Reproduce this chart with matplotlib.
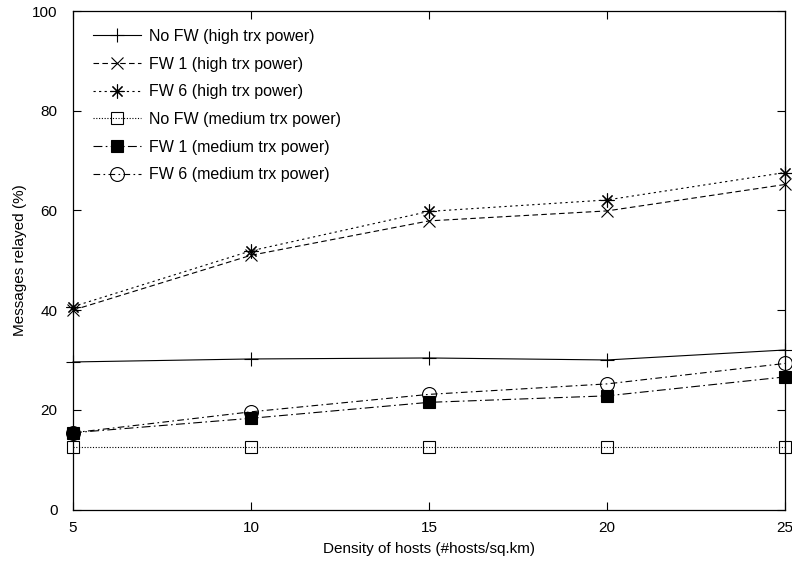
import matplotlib
matplotlib.use('Agg')
import matplotlib.pyplot as plt

plt.rcParams['font.family'] = ['Liberation Sans', 'DejaVu Sans']
plt.rcParams['font.size'] = 11

# Density of hosts
density = [5, 10, 15, 20, 25]

# Messages relayed (%) per scenario
nofw_high = [29.6, 30.2, 30.4, 30.0, 32.0]
fw1_high = [40.0, 51.0, 57.9, 59.9, 65.2]
fw6_high = [40.7, 51.9, 59.8, 62.1, 67.6]
nofw_med = [12.5, 12.5, 12.5, 12.5, 12.5]
fw1_med = [15.4, 18.3, 21.5, 22.8, 26.6]
fw6_med = [15.4, 19.6, 23.1, 25.2, 29.3]

labels = ['No FW (high trx power)', 'FW 1 (high trx power)', 'FW 6 (high trx power)',
          'No FW (medium trx power)', 'FW 1 (medium trx power)', 'FW 6 (medium trx power)']

fig = plt.figure(figsize=(7.92, 5.62), dpi=100)
ax = fig.add_axes([0.0922, 0.0934, 0.8990, 0.8870])

lw = 0.8
common = dict(color='black', lw=lw, mew=0.8, clip_on=False)
ax.plot(density, nofw_high, ls='-', marker='+', ms=10, label=labels[0], **common)
ax.plot(density, fw1_high, ls=(0, (5, 3)), marker='x', ms=8, label=labels[1], **common)
ax.plot(density, fw6_high, ls=(0, (2, 3)), marker=(8, 2, 0), ms=10, label=labels[2], **common)
ax.plot(density, nofw_med, ls=(0, (1, 1.5)), marker='s', ms=9, mfc='none', label=labels[3], **common)
ax.plot(density, fw1_med, ls=(0, (8, 3, 1.5, 3)), marker='s', ms=9, mfc='black', label=labels[4], **common)
ax.plot(density, fw6_med, ls=(0, (6, 3, 1.5, 3)), marker='o', ms=10, mfc='none', label=labels[5], **common)

ax.set_xlim(5, 25)
ax.set_ylim(0, 100)
ax.set_xticks([5, 10, 15, 20, 25])
ax.set_yticks([0, 20, 40, 60, 80, 100])
ax.tick_params(direction='in', length=6, width=0.8, top=True, right=True, labelsize=11)
ax.tick_params(axis='x', pad=8)
ax.tick_params(axis='y', pad=11)
for s in ax.spines.values():
    s.set_linewidth(0.9)

ax.set_xlabel('Density of hosts (#hosts/sq.km)', fontsize=11, labelpad=5)
ax.set_ylabel('Messages relayed (%)', fontsize=11, labelpad=4)

ax.legend(loc='upper left', bbox_to_anchor=(0.015, 0.983), frameon=False, fontsize=11.5,
          handlelength=3.0, handletextpad=0.5, labelspacing=0.79, borderaxespad=0.2)

fig.savefig('out.png', dpi=100)
